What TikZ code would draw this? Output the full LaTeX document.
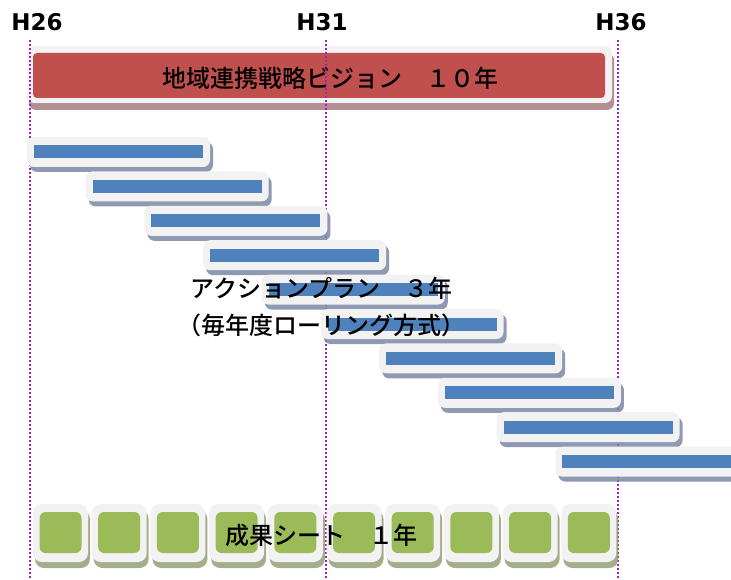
\documentclass[tikz,border=0pt]{standalone}
\usepackage{fontspec}
\newfontfamily\jpfont{Noto Sans CJK JP}[UprightFont=* Medium]
\newfontfamily\yrfont{DejaVu Sans Bold}
\usepackage{tikz}
\usetikzlibrary{shadows}

\definecolor{visionred}{RGB}{192,80,77}
\definecolor{planblue}{RGB}{79,129,189}
\definecolor{sheetgreen}{RGB}{155,187,89}
\definecolor{framegray}{RGB}{242,242,242}
\definecolor{guidepurple}{RGB}{170,30,190}
\definecolor{redshadow}{RGB}{168,122,128}
\definecolor{blueshadow}{RGB}{122,136,165}
\definecolor{greenshadow}{RGB}{148,160,118}

\tikzset{
    outerbox/.style={fill=framegray, rounded corners=7pt, inner sep=0pt},
    visionbox/.style={outerbox, minimum width=585pt, minimum height=57pt,
        drop shadow={shadow xshift=2pt, shadow yshift=-7pt, fill=redshadow, opacity=.85}},
    planbox/.style={outerbox, minimum width=183pt, minimum height=30pt,
        drop shadow={shadow xshift=3pt, shadow yshift=-5pt, fill=blueshadow, opacity=.85}},
    sheetbox/.style={outerbox, rounded corners=9pt, minimum width=55pt, minimum height=58pt,
        drop shadow={shadow xshift=2pt, shadow yshift=-6pt, fill=greenshadow, opacity=.85}},
    guideline/.style={guidepurple, line width=2pt, dash pattern=on 2pt off 2pt},
    yearlabel/.style={font=\yrfont\fontsize{23}{26}\selectfont, inner sep=0pt},
    jplabel/.style={font=\jpfont\fontsize{24}{28}\selectfont, inner sep=0pt}
}

\begin{document}
\begin{tikzpicture}[x=1pt, y=-1pt]
        \useasboundingbox (0,0) rectangle (731,580);

        % Year labels
        \node[yearlabel] (h26) at (37,22) {H26};
        \node[yearlabel] (h31) at (322,22) {H31};
        \node[yearlabel] (h36) at (621,22) {H36};

        % Vision bar (10 years)
        \node[visionbox] (visionframe) at (319.5,74.5) {};
        \node[fill=visionred, rounded corners=4pt, minimum width=572pt, minimum height=45pt, inner sep=0pt] (visionbar) at (319,75.5) {};

        % Draw the guide lines
        \foreach \yr/\gx in {26/30, 31/326, 36/618} {
            \coordinate (top\yr) at (\gx,40);
            \coordinate (bot\yr) at (\gx,580);
            \draw[guideline] (top\yr) -- (bot\yr);
        }

        % Action plan bars, shifted each year
        \foreach \i in {0,...,9} {
            \pgfmathsetmacro{\px}{118.5 + 58.7*\i}
            \pgfmathsetmacro{\py}{152 + 34.4*\i}
            \node[planbox] (plan\i) at (\px,\py) {};
            \node[fill=planblue, minimum width=169pt, minimum height=13pt, inner sep=0pt] (planbar\i) at (\px,\py) {};
        }

        % Yearly result sheets
        \foreach \i in {0,...,9} {
            \pgfmathsetmacro{\sx}{60.5 + 58.7*\i}
            \node[sheetbox] (sheet\i) at (\sx,533) {};
            \node[fill=sheetgreen, rounded corners=6pt, minimum width=42pt, minimum height=41pt, inner sep=0pt] (sheetsq\i) at (\sx,532.5) {};
        }

        % Labels
        \node[jplabel] (visiontext) at (330,78) {地域連携戦略ビジョン　１０年};
        \node[jplabel, anchor=west] (plantext) at (190,288) {アクションプラン　３年};
        \node[jplabel, anchor=west] (rolltext) at (177,325) {（毎年度ローリング方式）};
        \node[jplabel] (sheettext) at (321.5,535) {成果シート　１年};
    \end{tikzpicture}
\end{document}
